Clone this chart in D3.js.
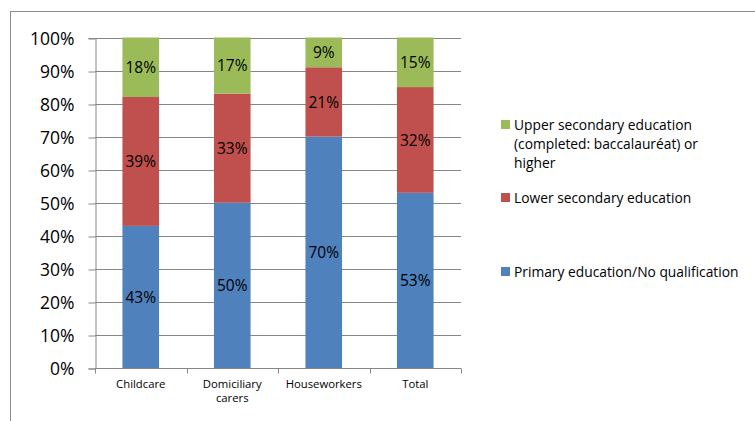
<!DOCTYPE html>
<html>
<head>
<meta charset="utf-8">
<script src="https://cdn.jsdelivr.net/npm/d3@7"></script>
<style>
  body { margin: 0; background: #fff; }
  svg { display: block; font-family: "Open Sans", sans-serif; }
</style>
</head>
<body>
<svg id="chart" width="755" height="421"></svg>
<script>
// values (shares in %)
const categories = ["Childcare", "Domiciliary carers", "Houseworkers", "Total"];
const primary = [43, 50, 70, 53];
const lowerSecondary = [39, 33, 21, 32];
const upperSecondary = [18, 17, 9, 15];
const yTicks = [0, 10, 20, 30, 40, 50, 60, 70, 80, 90, 100];

const seriesNames = [
  "Primary education/No qualification",
  "Lower secondary education",
  "Upper secondary education (completed: baccalauréat) or higher"
];
const colors = ["#4F81BD", "#C0504D", "#9BBB59"];

const rows = categories.map((c, i) => ({
  cat: c,
  s0: primary[i],
  s1: lowerSecondary[i],
  s2: upperSecondary[i]
}));

const svg = d3.select("#chart");

// chart frame
svg.append("rect")
  .attr("x", 10.5).attr("y", 11.5)
  .attr("width", 800).attr("height", 500)
  .attr("fill", "none").attr("stroke", "#8c8c8c");

const x = d3.scaleBand()
  .domain(categories)
  .range([95, 461])
  .paddingInner(0.6)
  .paddingOuter(0.3);

const y = d3.scaleLinear()
  .domain([0, 100])
  .range([368, 37.5]);

// gridlines
svg.append("g")
  .selectAll("line")
  .data(yTicks.slice(1))
  .join("line")
  .attr("x1", 95).attr("x2", 461)
  .attr("y1", d => Math.round(y(d)) + 0.5)
  .attr("y2", d => Math.round(y(d)) + 0.5)
  .attr("stroke", "#868686");

// y axis
const yAxis = svg.append("g")
  .attr("transform", "translate(95.5,0.5)")
  .call(d3.axisLeft(y).tickValues(yTicks).tickSize(7).tickPadding(14)
    .tickFormat(d => d + "%"));
yAxis.selectAll("line").attr("stroke", "#868686")
  .attr("transform", d => `translate(0,${Math.round(y(d)) - y(d)})`);
yAxis.select(".domain").attr("stroke", "#868686");
yAxis.selectAll("text")
  .attr("transform", d => `translate(0,${Math.round(y(d)) - y(d)})`)
  .style("font-size", "17.5px").attr("fill", "#000")
  .attr("font-family", "Open Sans");

// stacked bars
const stack = d3.stack().keys(["s0", "s1", "s2"]);
const layers = stack(rows);

const g = svg.append("g");
layers.forEach((layer, li) => {
  g.append("g")
    .selectAll("rect")
    .data(layer)
    .join("rect")
    .attr("x", d => x(d.data.cat))
    .attr("width", x.bandwidth())
    .attr("y", d => y(d[1]))
    .attr("height", d => y(d[0]) - y(d[1]))
    .attr("fill", colors[li]);

  g.append("g")
    .selectAll("text")
    .data(layer)
    .join("text")
    .attr("x", d => x(d.data.cat) + x.bandwidth() / 2)
    .attr("y", d => (y(d[0]) + y(d[1])) / 2)
    .attr("dy", "0.36em")
    .attr("text-anchor", "middle")
    .style("font-size", "15.5px")
    .text(d => (d[1] - d[0]) + "%");
});

// x axis
const xAxis = svg.append("g")
  .attr("transform", "translate(0,368.5)");
xAxis.append("line")
  .attr("x1", 95).attr("x2", 461)
  .attr("stroke", "#868686");
const step = x.step();
xAxis.selectAll("line.tick")
  .data(d3.range(categories.length + 1))
  .join("line")
  .attr("class", "tick")
  .attr("x1", i => Math.round(95 + i * step) + 0.5)
  .attr("x2", i => Math.round(95 + i * step) + 0.5)
  .attr("y1", 0).attr("y2", 5)
  .attr("stroke", "#868686");

// category labels, wrapped like the original
const catLines = {
  "Childcare": ["Childcare"],
  "Domiciliary carers": ["Domiciliary", "carers"],
  "Houseworkers": ["Houseworkers"],
  "Total": ["Total"]
};
categories.forEach(c => {
  const t = xAxis.append("text")
    .attr("text-anchor", "middle")
    .style("font-size", "11.3px");
  catLines[c].forEach((ln, k) => {
    t.append("tspan")
      .attr("x", x(c) + x.bandwidth() / 2)
      .attr("y", 19.5 + k * 14)
      .text(ln);
  });
});

// legend (top entry first, as in the original)
const legendItems = [
  { name: seriesNames[2], color: colors[2], lines: ["Upper secondary education", "(completed: baccalauréat) or", "higher"], top: 125 },
  { name: seriesNames[1], color: colors[1], lines: ["Lower secondary education"], top: 198 },
  { name: seriesNames[0], color: colors[0], lines: ["Primary education/No qualification"], top: 272 }
];
const legend = svg.append("g");
legendItems.forEach(it => {
  legend.append("rect")
    .attr("x", 501).attr("y", it.top - 5)
    .attr("width", 9).attr("height", 9)
    .attr("fill", it.color);
  const t = legend.append("text").style("font-size", "13.8px");
  it.lines.forEach((ln, k) => {
    t.append("tspan")
      .attr("x", 514)
      .attr("y", it.top + 5 + k * 19)
      .text(ln);
  });
});
</script>
</body>
</html>
